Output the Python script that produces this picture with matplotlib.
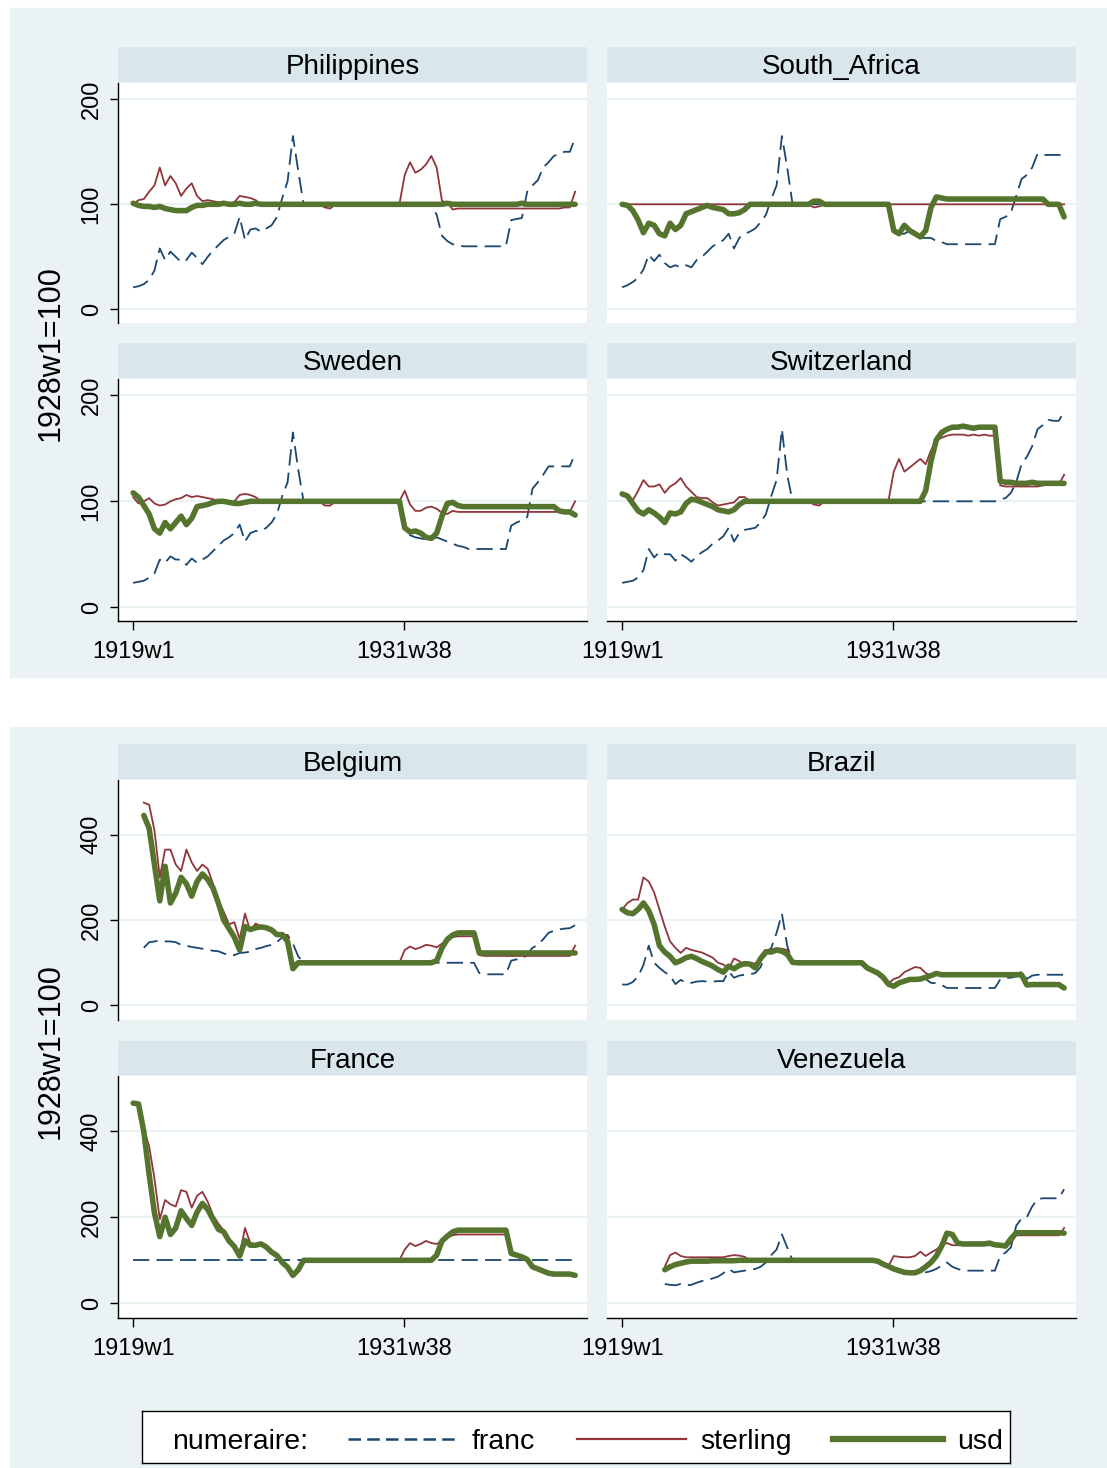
import numpy as np
import matplotlib.pyplot as plt
from matplotlib.patches import Rectangle
from matplotlib.lines import Line2D

plt.rcParams['font.family'] = ['Liberation Sans', 'DejaVu Sans']

W, H = 1107, 1468
nan = np.nan

# weekly index since 1919w1, sampled every 13 weeks (quarterly), 84 points
weeks = np.arange(84) * 13
tick_weeks = [0, 661]
tick_labels = ['1919w1', '1931w38']

# ---- Philippines
PH_franc = [21, 22, 24, 28, 37, 58, 47, 55, 50, 45,
            47, 54, 49, 43, 50, 56, 61, 66, 69, 72,
            88, 66, 76, 77, 74, 77, 80, 88, 106, 122,
            165, 132, 100, 100, 100, 100, 100, 100, 100, 100,
            100, 100, 100, 100, 100, 100, 100, 100, 100, 100,
            100, 100, 100, 100, 100, 100, 100, 90, 70, 65,
            62, 61, 60, 60, 60, 60, 60, 60, 60, 60,
            60, 85, 86, 87, 112, 118, 123, 135, 140, 146,
            148, 150, 150, 163]
PH_sterling = [100, 104, 105, 112, 118, 135, 118, 127, 120, 108,
               115, 120, 108, 103, 104, 103, 102, 101, 101, 102,
               108, 107, 106, 104, 100, 100, 100, 100, 100, 100,
               100, 100, 100, 100, 100, 100, 97, 96, 100, 100,
               100, 100, 100, 100, 100, 100, 100, 100, 100, 100,
               100, 128, 140, 130, 133, 138, 146, 135, 103, 102,
               95, 96, 96, 96, 96, 96, 96, 96, 96, 96,
               96, 96, 96, 96, 96, 96, 96, 96, 96, 96,
               96, 97, 97, 112]
PH_usd = [101, 99, 98, 98, 97, 98, 96, 95, 94, 94,
          94, 97, 99, 99, 100, 100, 100, 101, 100, 100,
          101, 100, 100, 101, 100, 100, 100, 100, 100, 100,
          100, 100, 100, 100, 100, 100, 100, 100, 100, 100,
          100, 100, 100, 100, 100, 100, 100, 100, 100, 100,
          100, 100, 100, 100, 100, 100, 100, 100, 100, 101,
          100, 100, 100, 100, 100, 100, 100, 100, 100, 100,
          100, 100, 100, 101, 100, 100, 100, 100, 100, 100,
          100, 100, 100, 100]

# ---- South_Africa
SA_franc = [21, 23, 26, 30, 38, 52, 46, 52, 44, 40,
            42, 40, 42, 40, 47, 50, 55, 60, 63, 66,
            72, 58, 68, 72, 74, 77, 83, 90, 105, 118,
            165, 135, 100, 100, 100, 100, 100, 100, 100, 100,
            100, 100, 100, 100, 100, 100, 100, 100, 100, 100,
            100, 78, 72, 72, 75, 70, 68, 68, 68, 65,
            64, 62, 62, 62, 62, 62, 62, 62, 62, 62,
            62, 86, 88, 92, 108, 124, 128, 135, 148, 147,
            147, 147, 147, 147]
SA_sterling = [100, 100, 100, 100, 100, 100, 100, 100, 100, 100,
               100, 100, 100, 100, 100, 100, 100, 100, 100, 100,
               100, 100, 100, 100, 100, 100, 100, 100, 100, 100,
               100, 100, 100, 100, 100, 100, 97, 98, 100, 100,
               100, 100, 100, 100, 100, 100, 100, 100, 100, 100,
               100, 100, 100, 100, 100, 100, 100, 100, 100, 100,
               100, 100, 100, 100, 100, 100, 100, 100, 100, 100,
               100, 100, 100, 100, 100, 100, 100, 100, 100, 100,
               100, 100, 100, 100]
SA_usd = [100, 99, 94, 85, 73, 82, 80, 72, 70, 82,
          76, 80, 91, 93, 95, 97, 99, 97, 96, 95,
          91, 91, 92, 95, 100, 100, 100, 100, 100, 100,
          100, 100, 100, 100, 100, 100, 103, 103, 100, 100,
          100, 100, 100, 100, 100, 100, 100, 100, 100, 100,
          100, 75, 72, 80, 75, 72, 69, 75, 97, 107,
          106, 105, 105, 105, 105, 105, 105, 105, 105, 105,
          105, 105, 105, 105, 105, 105, 105, 105, 105, 105,
          100, 100, 100, 88]

# ---- Sweden
SE_franc = [23, 24, 25, 28, 32, 45, 42, 48, 45, 45,
            40, 46, 42, 45, 48, 53, 58, 63, 66, 70,
            78, 62, 70, 72, 72, 75, 80, 88, 105, 118,
            165, 130, 100, 100, 100, 100, 100, 100, 100, 100,
            100, 100, 100, 100, 100, 100, 100, 100, 100, 100,
            100, 72, 68, 66, 65, 64, 64, 66, 64, 62,
            60, 58, 57, 55, 55, 55, 55, 55, 55, 55,
            55, 77, 80, 82, 85, 112, 118, 125, 133, 133,
            133, 133, 133, 145]
SE_sterling = [104, 98, 100, 103, 98, 96, 97, 100, 102, 103,
               106, 104, 105, 104, 103, 102, 100, 100, 99, 100,
               106, 107, 106, 104, 100, 100, 100, 100, 100, 100,
               100, 100, 100, 100, 100, 100, 96, 96, 100, 100,
               100, 100, 100, 100, 100, 100, 100, 100, 100, 100,
               100, 110, 97, 91, 91, 94, 95, 93, 89, 88,
               91, 90, 90, 90, 90, 90, 90, 90, 90, 90,
               90, 90, 90, 90, 90, 90, 90, 90, 90, 90,
               90, 90, 90, 100]
SE_usd = [108, 104, 96, 88, 74, 70, 80, 74, 80, 86,
          78, 84, 95, 96, 97, 99, 100, 100, 99, 98,
          98, 99, 100, 100, 100, 100, 100, 100, 100, 100,
          100, 100, 100, 100, 100, 100, 100, 100, 100, 100,
          100, 100, 100, 100, 100, 100, 100, 100, 100, 100,
          100, 75, 71, 72, 70, 66, 65, 70, 86, 98,
          99, 96, 95, 95, 95, 95, 95, 95, 95, 95,
          95, 95, 95, 95, 95, 95, 95, 95, 95, 95,
          91, 90, 90, 87]

# ---- Switzerland
CH_franc = [23, 24, 25, 28, 35, 55, 47, 52, 50, 50,
            44, 50, 47, 43, 48, 52, 55, 60, 63, 67,
            75, 62, 70, 73, 74, 75, 80, 88, 105, 120,
            168, 125, 100, 100, 100, 100, 100, 100, 100, 100,
            100, 100, 100, 100, 100, 100, 100, 100, 100, 100,
            100, 100, 100, 100, 100, 100, 100, 100, 100, 100,
            100, 100, 100, 100, 100, 100, 100, 100, 100, 100,
            100, 102, 103, 108, 118, 135, 142, 152, 168, 172,
            177, 176, 176, 185]
CH_sterling = [107, 106, 101, 110, 120, 114, 114, 116, 108, 114,
               117, 122, 114, 109, 104, 103, 103, 99, 96, 97,
               98, 99, 104, 104, 100, 100, 100, 100, 100, 100,
               100, 100, 100, 100, 100, 100, 97, 96, 100, 100,
               100, 100, 100, 100, 100, 100, 100, 100, 100, 100,
               100, 128, 140, 128, 132, 136, 140, 135, 148, 158,
               160, 162, 163, 163, 163, 162, 163, 162, 163, 162,
               162, 115, 114, 114, 114, 114, 114, 114, 114, 115,
               116, 116, 116, 125]
CH_usd = [107, 105, 98, 91, 88, 92, 89, 85, 80, 89,
          88, 90, 98, 102, 101, 99, 97, 95, 92, 91,
          90, 92, 97, 100, 100, 100, 100, 100, 100, 100,
          100, 100, 100, 100, 100, 100, 100, 100, 100, 100,
          100, 100, 100, 100, 100, 100, 100, 100, 100, 100,
          100, 100, 100, 100, 100, 100, 100, 110, 138, 158,
          165, 168, 170, 170, 171, 170, 169, 170, 170, 170,
          170, 119, 118, 118, 117, 117, 117, 118, 117, 117,
          117, 117, 117, 117]

# ---- Belgium
BE_franc = [nan, nan, 135, 148, 150, 152, 150, 150, 148, 142,
            140, 137, 135, 133, 131, 128, 127, 122, 117, 118,
            123, 124, 126, 132, 135, 139, 142, 148, 160, 165,
            145, 115, 100, 100, 100, 100, 100, 100, 100, 100,
            100, 100, 100, 100, 100, 100, 100, 100, 100, 100,
            100, 100, 100, 100, 100, 100, 100, 100, 100, 100,
            100, 100, 100, 100, 100, 76, 73, 73, 73, 73,
            73, 105, 108, 108, 120, 135, 142, 155, 170, 175,
            178, 180, 181, 188]
BE_sterling = [nan, nan, 475, 470, 410, 300, 365, 365, 330, 315,
               365, 335, 315, 330, 320, 285, 245, 220, 190, 195,
               155, 215, 175, 192, 185, 185, 175, 168, 166, 165,
               95, 104, 100, 100, 100, 100, 100, 100, 100, 100,
               100, 100, 100, 100, 100, 100, 100, 100, 100, 100,
               100, 130, 138, 132, 136, 142, 140, 136, 145, 155,
               160, 162, 162, 162, 162, 118, 116, 116, 116, 116,
               116, 116, 116, 116, 116, 116, 116, 116, 116, 116,
               116, 116, 116, 140]
BE_usd = [nan, nan, 445, 415, 330, 245, 326, 240, 263, 300,
          285, 256, 290, 308, 295, 275, 240, 200, 180, 160,
          130, 185, 178, 182, 184, 182, 177, 166, 166, 150,
          86, 100, 100, 100, 100, 100, 100, 100, 100, 100,
          100, 100, 100, 100, 100, 100, 100, 100, 100, 100,
          100, 100, 100, 100, 100, 100, 100, 105, 135, 155,
          165, 170, 170, 170, 170, 123, 123, 123, 123, 123,
          123, 123, 123, 123, 123, 123, 123, 123, 123, 123,
          123, 123, 123, 123]

# ---- Brazil
BR_franc = [49, 49, 55, 68, 95, 140, 100, 88, 78, 70,
            50, 60, 53, 53, 56, 57, 56, 56, 57, 57,
            80, 65, 70, 72, 73, 76, 90, 120, 135, 170,
            215, 140, 100, 100, 100, 100, 100, 100, 100, 100,
            100, 100, 100, 100, 100, 100, 90, 83, 76, 67,
            52, 45, 53, 57, 61, 61, 62, 62, 53, 52,
            48, 41, 41, 41, 41, 41, 41, 41, 41, 41,
            41, 61, 65, 65, 68, 80, 62, 70, 72, 72,
            72, 72, 72, 72]
BR_sterling = [225, 240, 248, 248, 300, 290, 265, 225, 185, 150,
               135, 123, 135, 130, 127, 124, 118, 112, 100, 96,
               86, 110, 104, 93, 100, 98, 112, 130, 131, 134,
               133, 130, 101, 100, 100, 100, 100, 100, 100, 100,
               100, 100, 100, 100, 100, 100, 90, 83, 76, 67,
               52, 62, 66, 78, 84, 90, 88, 76, 70, 72,
               72, 72, 72, 72, 72, 72, 72, 72, 72, 72,
               72, 72, 72, 72, 72, 72, 47, 48, 48, 48,
               48, 48, 48, 42]
BR_usd = [225, 217, 215, 225, 240, 222, 190, 140, 125, 115,
          100, 105, 112, 115, 110, 103, 98, 92, 84, 78,
          92, 86, 94, 98, 97, 88, 110, 126, 125, 130,
          127, 120, 101, 100, 100, 100, 100, 100, 100, 100,
          100, 100, 100, 100, 100, 100, 88, 82, 76, 66,
          50, 45, 53, 57, 61, 61, 62, 66, 70, 75,
          72, 72, 72, 72, 72, 72, 72, 72, 72, 72,
          72, 72, 72, 72, 72, 72, 48, 49, 49, 49,
          49, 49, 49, 41]

# ---- France
FR_franc = [100] * 84
FR_sterling = [465, 463, 405, 365, 290, 195, 240, 230, 225, 263,
               259, 222, 250, 259, 236, 205, 185, 170, 150, 137,
               112, 175, 140, 137, 140, 132, 120, 111, 96, 85,
               66, 78, 100, 100, 100, 100, 100, 100, 100, 100,
               100, 100, 100, 100, 100, 100, 100, 100, 100, 100,
               100, 125, 140, 133, 138, 145, 140, 138, 145, 153,
               158, 160, 160, 160, 160, 160, 160, 160, 160, 160,
               160, 118, 112, 108, 102, 85, 80, 75, 70, 68,
               68, 68, 68, 66]
FR_usd = [465, 463, 399, 300, 210, 155, 200, 160, 175, 215,
          197, 181, 212, 232, 218, 195, 172, 166, 145, 132,
          110, 146, 135, 135, 138, 131, 119, 111, 95, 84,
          65, 78, 100, 100, 100, 100, 100, 100, 100, 100,
          100, 100, 100, 100, 100, 100, 100, 100, 100, 100,
          100, 100, 100, 100, 100, 100, 100, 112, 145, 156,
          166, 170, 170, 170, 170, 170, 170, 170, 170, 170,
          170, 116, 112, 108, 102, 85, 80, 75, 70, 68,
          68, 68, 68, 65]

# ---- Venezuela
VE_franc = [nan, nan, nan, nan, nan, nan, nan, nan, 45, 43,
            42, 45, 42, 43, 48, 52, 54, 58, 62, 70,
            80, 72, 74, 76, 78, 80, 85, 95, 112, 125,
            160, 130, 100, 100, 100, 100, 100, 100, 100, 100,
            100, 100, 100, 100, 100, 100, 100, 100, 100, 90,
            85, 80, 77, 74, 71, 71, 75, 72, 75, 80,
            88, 95, 85, 80, 76, 76, 76, 76, 76, 76,
            76, 110, 118, 130, 180, 197, 200, 225, 242, 244,
            244, 244, 244, 265]
VE_sterling = [nan, nan, nan, nan, nan, nan, nan, nan, 85, 112,
               118, 110, 107, 107, 107, 107, 107, 107, 107, 107,
               110, 112, 111, 108, 100, 100, 100, 100, 100, 100,
               100, 100, 100, 100, 100, 100, 100, 100, 100, 100,
               100, 100, 100, 100, 100, 100, 100, 100, 98, 90,
               86, 110, 108, 107, 107, 110, 120, 110, 118, 125,
               135, 140, 135, 135, 135, 135, 135, 135, 135, 135,
               135, 135, 135, 140, 158, 158, 158, 158, 158, 158,
               158, 158, 158, 175]
VE_usd = [nan, nan, nan, nan, nan, nan, nan, nan, 78, 85,
          90, 93, 96, 98, 98, 98, 98, 99, 99, 99,
          99, 99, 100, 100, 100, 100, 100, 100, 100, 100,
          100, 100, 100, 100, 100, 100, 100, 100, 100, 100,
          100, 100, 100, 100, 100, 100, 100, 100, 98, 91,
          86, 80, 76, 72, 71, 71, 76, 85, 95, 110,
          133, 163, 160, 140, 138, 138, 138, 138, 138, 140,
          136, 135, 133, 150, 164, 164, 164, 164, 164, 164,
          164, 164, 164, 163]

c_franc = '#1a476f'
c_sterling = '#90353b'
c_usd = '#55752f'
bg = '#eaf2f3'
strip_c = '#d9e6eb'
grid_c = '#eaf2f3'

fig = plt.figure(figsize=(W / 100, H / 100), dpi=100)
fig.patch.set_facecolor('white')


def axes_px(x0, y0, x1, y1):
    return fig.add_axes([x0 / W, 1 - y1 / H, (x1 - x0) / W, (y1 - y0) / H])


# graph regions (behind the axes)
fig.patches.append(Rectangle((10 / W, 1 - 677 / H), 1097 / W, 669 / H,
                             transform=fig.transFigure, color=bg, zorder=-5))
fig.patches.append(Rectangle((10 / W, 0), 1097 / W, (1468 - 727) / H,
                             transform=fig.transFigure, color=bg, zorder=-5))

cols = [(118, 587), (607, 1076)]
graphs = [
    {'rows': [(47, 82, 83, 323), (343, 378, 379, 621)],
     'ylim': (-13, 215.5), 'yticks': [0, 100, 200],
     'panels': [('Philippines', PH_franc, PH_sterling, PH_usd),
                ('South_Africa', SA_franc, SA_sterling, SA_usd),
                ('Sweden', SE_franc, SE_sterling, SE_usd),
                ('Switzerland', CH_franc, CH_sterling, CH_usd)],
     'ylab_y': 353},
    {'rows': [(744, 779, 780, 1020), (1041, 1075, 1076, 1318)],
     'ylim': (-34, 528), 'yticks': [0, 200, 400],
     'panels': [('Belgium', BE_franc, BE_sterling, BE_usd),
                ('Brazil', BR_franc, BR_sterling, BR_usd),
                ('France', FR_franc, FR_sterling, FR_usd),
                ('Venezuela', VE_franc, VE_sterling, VE_usd)],
     'ylab_y': 1051},
]

for g in graphs:
    for i, (name, fr, st, us) in enumerate(g['panels']):
        r, c = divmod(i, 2)
        s0, s1, p0, p1 = g['rows'][r]
        x0, x1 = cols[c]
        # strip with the panel title
        sax = axes_px(x0, s0, x1, s1)
        sax.set_facecolor(strip_c)
        sax.set_xticks([]); sax.set_yticks([])
        for sp in sax.spines.values():
            sp.set_visible(False)
        sax.text(0.5, 0.42, name, ha='center', va='center', fontsize=20,
                 transform=sax.transAxes)

        ax = axes_px(x0, p0, x1, p1)
        ax.set_facecolor('white')
        for v in g['yticks']:
            ax.axhline(v, color=grid_c, lw=1.6, zorder=0)
        ax.plot(weeks, fr, color=c_franc, lw=1.3, dashes=(9, 4), zorder=2)
        ax.plot(weeks, st, color=c_sterling, lw=1.3, zorder=3)
        ax.plot(weeks, us, color=c_usd, lw=4, zorder=4,
                solid_capstyle='round', solid_joinstyle='round')
        ax.set_xlim(-37, 1108)
        ax.set_ylim(*g['ylim'])
        ax.spines['top'].set_visible(False)
        ax.spines['right'].set_visible(False)
        ax.spines['left'].set_visible(c == 0)
        ax.spines['bottom'].set_visible(r == 1)
        ax.spines['left'].set_linewidth(1)
        ax.spines['bottom'].set_linewidth(1)
        if c == 0:
            ax.set_yticks(g['yticks'])
            ax.set_yticklabels([str(v) for v in g['yticks']], rotation=90,
                               va='center', fontsize=17)
            ax.tick_params(axis='y', length=6, width=1, pad=5)
        else:
            ax.set_yticks([])
        if r == 1:
            ax.set_xticks(tick_weeks)
            ax.set_xticklabels(tick_labels, fontsize=17)
            ax.tick_params(axis='x', length=6.5, width=1, pad=8)
        else:
            ax.set_xticks([])
    fig.text(51 / W, 1 - g['ylab_y'] / H, '1928w1=100', rotation=90,
             ha='center', va='center', fontsize=22)

# legend box
lax = axes_px(142, 1411, 1010, 1463)
lax.set_facecolor('white')
lax.set_xticks([]); lax.set_yticks([])
for sp in lax.spines.values():
    sp.set_linewidth(1)
    sp.set_color('black')
lax.text(30 / 868, 0.40, 'numeraire:', ha='left', va='center', fontsize=20.5,
         transform=lax.transAxes)
handles = [Line2D([], [], color=c_franc, lw=1.8, dashes=(5, 2.5)),
           Line2D([], [], color=c_sterling, lw=1.6),
           Line2D([], [], color=c_usd, lw=4.5)]
lax.legend(handles, ['franc', 'sterling', 'usd'], ncol=3, loc='center right',
           bbox_to_anchor=(1.0, 0.40), frameon=False, fontsize=20.5,
           handlelength=3.85, handletextpad=0.5, columnspacing=1.45,
           borderaxespad=0.0, borderpad=0.25)

fig.savefig('out.png', dpi=100)
